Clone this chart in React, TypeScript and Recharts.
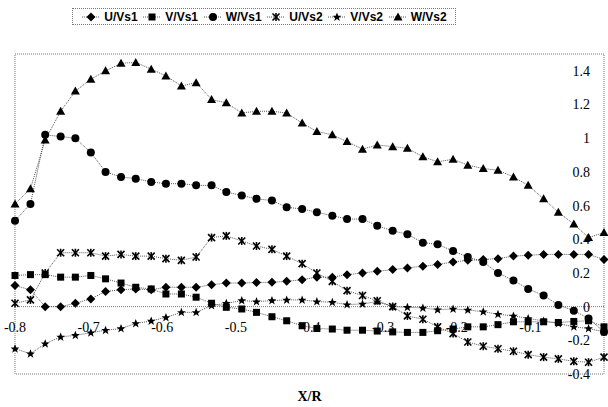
import {
  LineChart,
  Line,
  XAxis,
  YAxis,
  Legend,
  ReferenceArea,
  ReferenceLine,
  ReferenceDot,
} from 'recharts'

// X/R positions of the measurement points
const xr = [
  -0.8, -0.779, -0.759, -0.738, -0.718, -0.697, -0.677, -0.656, -0.636, -0.615,
  -0.595, -0.574, -0.554, -0.533, -0.513, -0.492, -0.472, -0.451, -0.431, -0.41,
  -0.39, -0.369, -0.349, -0.328, -0.308, -0.287, -0.267, -0.246, -0.226, -0.205,
  -0.185, -0.164, -0.144, -0.123, -0.103, -0.082, -0.062, -0.041, -0.021, 0,
]

const uVs1 = [
  0.125, 0.1, 0.0, 0.0, 0.02, 0.046, 0.09, 0.1, 0.105, 0.1,
  0.115, 0.115, 0.115, 0.13, 0.14, 0.14, 0.143, 0.145, 0.15, 0.16,
  0.175, 0.175, 0.19, 0.2, 0.21, 0.22, 0.23, 0.24, 0.25, 0.265,
  0.275, 0.28, 0.285, 0.3, 0.305, 0.31, 0.31, 0.31, 0.31, 0.28,
]
const vVs1 = [
  0.185, 0.19, 0.19, 0.175, 0.175, 0.185, 0.165, 0.14, 0.115, 0.105,
  0.075, 0.075, 0.056, 0.02, -0.004, -0.014, -0.034, -0.06, -0.084, -0.113,
  -0.13, -0.133, -0.14, -0.14, -0.145, -0.15, -0.153, -0.153, -0.143, -0.133,
  -0.12, -0.12, -0.107, -0.09, -0.09, -0.09, -0.094, -0.088, -0.084, -0.12,
]
const wVs1 = [
  0.51, 0.61, 1.02, 1.01, 1.0, 0.915, 0.8, 0.77, 0.76, 0.74,
  0.73, 0.73, 0.72, 0.72, 0.68, 0.66, 0.64, 0.63, 0.59, 0.58,
  0.56, 0.54, 0.52, 0.52, 0.48, 0.45, 0.43, 0.38, 0.37, 0.33,
  0.295, 0.265, 0.2, 0.155, 0.105, 0.066, 0.01, -0.024, -0.07, -0.15,
]
const uVs2 = [
  0.02, 0.04, 0.2, 0.32, 0.32, 0.32, 0.3, 0.31, 0.3, 0.3,
  0.285, 0.275, 0.295, 0.41, 0.42, 0.39, 0.36, 0.34, 0.3, 0.255,
  0.2, 0.15, 0.095, 0.066, 0.035, 0.0, -0.055, -0.075, -0.12, -0.16,
  -0.21, -0.235, -0.25, -0.265, -0.285, -0.3, -0.31, -0.325, -0.33, -0.3,
]
const vVs2 = [
  -0.25, -0.28, -0.22, -0.18, -0.17, -0.155, -0.14, -0.13, -0.1, -0.085,
  -0.064, -0.034, -0.034, 0.006, 0.02, 0.036, 0.03, 0.036, 0.04, 0.04,
  0.03, 0.026, 0.012, 0.016, 0.03, 0.0, -0.004, -0.008, -0.018, -0.014,
  -0.02, -0.03, -0.045, -0.055, -0.07, -0.085, -0.1, -0.12, -0.13, -0.15,
]
const wVs2 = [
  0.61, 0.7, 0.99, 1.16, 1.28, 1.35, 1.4, 1.445, 1.45, 1.41,
  1.37, 1.31, 1.33, 1.23, 1.21, 1.15, 1.16, 1.16, 1.15, 1.09,
  1.04, 1.02, 0.98, 0.935, 0.96, 0.95, 0.94, 0.89, 0.86, 0.875,
  0.84, 0.82, 0.81, 0.77, 0.72, 0.64, 0.56, 0.49, 0.41, 0.44,
]

const seriesNames = ['U/Vs1', 'V/Vs1', 'W/Vs1', 'U/Vs2', 'V/Vs2', 'W/Vs2']
const seriesValues = [uVs1, vVs1, wVs1, uVs2, vVs2, wVs2]
const markerKinds = ['diamond', 'square', 'circle', 'asterisk', 'star', 'triangle']

const xTicks = [-0.8, -0.7, -0.6, -0.5, -0.4, -0.3, -0.2, -0.1]
const yTicks = [-0.4, -0.2, 0, 0.2, 0.4, 0.6, 0.8, 1, 1.2, 1.4]

const data = xr.map((x, i) => {
  const row: Record<string, number> = { x }
  seriesNames.forEach((n, s) => {
    row[n] = seriesValues[s][i]
  })
  return row
})

const serif = '"Liberation Serif", "DejaVu Serif", serif'
const sans = '"Liberation Sans", Arial, sans-serif'

function Marker({ kind, cx, cy }: { kind: string; cx: number; cy: number }) {
  if (cx == null || cy == null) return null
  switch (kind) {
    case 'diamond':
      return <path d={`M${cx},${cy - 4.5}L${cx + 4.5},${cy}L${cx},${cy + 4.5}L${cx - 4.5},${cy}Z`} fill="#000" />
    case 'square':
      return <rect x={cx - 3.5} y={cy - 3.5} width={7} height={7} fill="#000" />
    case 'circle':
      return <circle cx={cx} cy={cy} r={4} fill="#000" />
    case 'asterisk':
      return (
        <g stroke="#000" strokeWidth={1.6}>
          <line x1={cx - 3.5} y1={cy - 3.5} x2={cx + 3.5} y2={cy + 3.5} />
          <line x1={cx - 3.5} y1={cy + 3.5} x2={cx + 3.5} y2={cy - 3.5} />
          <line x1={cx} y1={cy - 4} x2={cx} y2={cy + 4} />
        </g>
      )
    case 'star':
      return (
        <path
          d={`M${cx},${cy - 4.5}L${cx + 1.3},${cy - 1.2}L${cx + 4.3},${cy - 1.2}L${cx + 1.9},${cy + 0.9}L${cx + 2.8},${cy + 4}L${cx},${cy + 2}L${cx - 2.8},${cy + 4}L${cx - 1.9},${cy + 0.9}L${cx - 4.3},${cy - 1.2}L${cx - 1.3},${cy - 1.2}Z`}
          fill="#000"
        />
      )
    default:
      return <path d={`M${cx},${cy - 4.5}L${cx + 4.5},${cy + 3.5}L${cx - 4.5},${cy + 3.5}Z`} fill="#000" />
  }
}

function renderLegend() {
  return (
    <div
      style={{
        display: 'flex',
        justifyContent: 'space-around',
        alignItems: 'center',
        border: '1px dotted #777',
        height: 17,
        boxSizing: 'border-box',
        padding: '0 6px',
        fontFamily: sans,
        fontWeight: 'bold',
        fontSize: 12,
        color: '#000',
      }}
    >
      {seriesNames.map((n, i) => (
        <span key={n} style={{ display: 'flex', alignItems: 'center' }}>
          <svg width={20} height={12} style={{ marginRight: 3 }}>
            <line x1={1} y1={6} x2={19} y2={6} stroke="#555" strokeDasharray="1 1" />
            <Marker kind={markerKinds[i]} cx={10} cy={6} />
          </svg>
          {n}
        </span>
      ))}
    </div>
  )
}

export default function App() {
  return (
    <div style={{ position: 'absolute', left: 0, top: 0, background: '#fff' }}>
      <LineChart width={608} height={407} data={data} margin={{ top: 37, right: 4, left: 15, bottom: 3 }}>
        <XAxis
          dataKey="x"
          type="number"
          domain={[-0.8, 0]}
          ticks={xTicks}
          tick={false}
          tickLine={false}
          axisLine={false}
          height={30}
          label={{ value: 'X/R', position: 'insideBottom', offset: 3, fill: '#000', fontSize: 14, fontFamily: serif, fontWeight: 'bold' }}
        />
        <YAxis
          orientation="right"
          mirror
          width={40}
          domain={[-0.4, 1.5]}
          ticks={yTicks}
          axisLine={false}
          tickLine={false}
          tickSize={0}
          tickMargin={14}
          tick={{ fill: '#000', fontSize: 14, fontFamily: serif }}
        />
        <Legend
          verticalAlign="top"
          content={renderLegend}
          wrapperStyle={{ left: 72, top: 8, width: 384 }}
        />
        <ReferenceArea x1={-0.8} x2={0} y1={-0.4} y2={1.5} fill="none" stroke="#777" strokeDasharray="1 1" />
        <ReferenceLine y={0} stroke="#777" strokeDasharray="1 1" />
        {xTicks.map((t) => (
          <ReferenceDot
            key={t}
            x={t}
            y={0}
            r={0}
            fill="none"
            stroke="none"
            label={{ value: String(t), position: 'bottom', offset: 15, fill: '#000', fontSize: 14, fontFamily: serif }}
          />
        ))}
        {seriesNames.map((n, s) => (
          <Line
            key={n}
            dataKey={n}
            type="linear"
            stroke="#555"
            strokeWidth={1}
            strokeDasharray="1 1"
            isAnimationActive={false}
            dot={(p: any) => <Marker key={`${n}-${p.index}`} kind={markerKinds[s]} cx={p.cx} cy={p.cy} />}
          />
        ))}
      </LineChart>
    </div>
  )
}
